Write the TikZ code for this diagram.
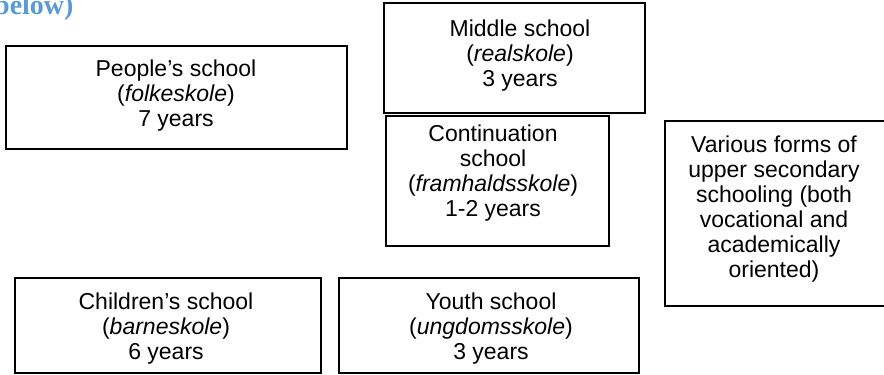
\documentclass[tikz,border=0pt]{standalone}
\usepackage{fontspec}
\setmainfont{Liberation Sans}
\newfontfamily\headfont{Liberation Serif}
\definecolor{headblue}{RGB}{91,155,213}
\begin{document}
\begin{tikzpicture}[x=1pt,y=-1pt,
  box/.style={draw=black, line width=1.2pt, inner sep=0pt, rectangle},
  txt/.style={align=center, inner sep=0pt, font=\fontsize{23}{25}\selectfont}]
\useasboundingbox (0,0) rectangle (884,375);
\clip (0,0) rectangle (884,375);
\fill[white] (0,0) rectangle (884,375);
% heading fragment (cut off at the top edge, as in the reference)
\node[anchor=base west, inner sep=0pt, text=headblue,
      font=\headfont\bfseries\fontsize{28}{32}\selectfont] (hd) at (-6,14) {below)};
% boxes
\node[box, minimum width=341pt, minimum height=103pt] (psbox) at (176.5,97.5) {};
\node[box, minimum width=261pt, minimum height=110pt] (msbox) at (514.5,58) {};
\node[box, minimum width=223pt, minimum height=130pt] (csbox) at (497.5,181) {};
\node[box, minimum width=225pt, minimum height=185pt] (vsbox) at (777.5,213.5) {};
\node[box, minimum width=306pt, minimum height=95pt] (chbox) at (168,325.5) {};
\node[box, minimum width=300pt, minimum height=95pt] (ysbox) at (489,325.5) {};
% texts
\node[txt] (ps) at (176,95.5) {People’s school\\(\textit{folkeskole})\\7 years};
\node[txt] (ms) at (520,55.5) {Middle school\\(\textit{realskole})\\3 years};
\node[txt] (cs) at (493,173) {Continuation\\school\\(\textit{framhaldsskole})\\1-2 years};
\node[txt] (vs) at (774,209) {Various forms of\\upper secondary\\schooling (both\\vocational and\\academically\\oriented)};
\node[txt] (ch) at (166,329) {Children’s school\\(\textit{barneskole})\\6 years};
\node[txt] (ys) at (491,329) {Youth school\\(\textit{ungdomsskole})\\3 years};
\end{tikzpicture}
\end{document}
